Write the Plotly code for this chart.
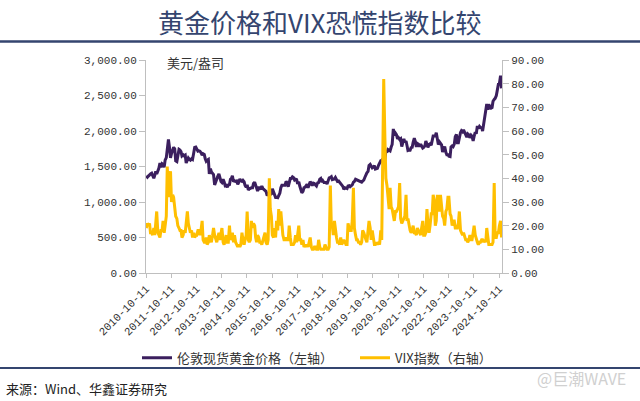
import pandas as pd
import plotly.graph_objects as go

# Semi-monthly readings (1st and 15th of each month), starting 2010-10-15
gold = [
    1370, 1350, 1365, 1390, 1395,
    1405, 1365, 1335, 1375, 1430, 1395, 1430, 1475, 1550, 1490, 1540, 1530, 1490, 1590, 1625, 1750, 1880, 1780, 1620, 1680, 1720, 1770, 1750, 1580,
    1570, 1640, 1740, 1730, 1710, 1650, 1665, 1650, 1660, 1550, 1600, 1620, 1600, 1590, 1610, 1600, 1690, 1770, 1775, 1750, 1715, 1720, 1715, 1695,
    1660, 1680, 1670, 1610, 1575, 1590, 1600, 1395, 1470, 1425, 1395, 1385, 1240, 1285, 1310, 1360, 1395, 1320, 1290, 1275, 1320, 1285, 1230, 1235,
    1210, 1240, 1245, 1320, 1330, 1370, 1285, 1300, 1290, 1295, 1250, 1275, 1325, 1300, 1290, 1305, 1285, 1235, 1210, 1240, 1170, 1185, 1200, 1200,
    1200, 1260, 1280, 1225, 1210, 1155, 1200, 1200, 1180, 1225, 1190, 1180, 1170, 1150, 1090, 1115, 1135, 1105, 1115, 1185, 1140, 1085, 1065, 1065,
    1060, 1090, 1125, 1200, 1235, 1235, 1230, 1235, 1290, 1275, 1215, 1290, 1330, 1330, 1355, 1345, 1310, 1320, 1315, 1255, 1285, 1225, 1170, 1130,
    1150, 1200, 1210, 1235, 1250, 1200, 1245, 1285, 1265, 1230, 1265, 1260, 1240, 1225, 1270, 1275, 1320, 1330, 1280, 1300, 1275, 1280, 1275, 1255,
    1300, 1340, 1345, 1355, 1315, 1320, 1325, 1345, 1305, 1290, 1295, 1280, 1250, 1240, 1220, 1180, 1200, 1195, 1190, 1225, 1230, 1215, 1225, 1240,
    1280, 1290, 1320, 1315, 1310, 1300, 1290, 1285, 1280, 1295, 1310, 1345, 1400, 1410, 1430, 1515, 1530, 1500, 1480, 1490, 1510, 1465, 1465, 1475,
    1520, 1550, 1580, 1580, 1610, 1515, 1590, 1720, 1700, 1740, 1735, 1720, 1775, 1810, 2030, 1940, 1970, 1950, 1890, 1905, 1880, 1890, 1780, 1850,
    1890, 1840, 1860, 1795, 1725, 1730, 1730, 1765, 1770, 1840, 1900, 1855, 1775, 1825, 1815, 1780, 1815, 1790, 1760, 1770, 1790, 1860, 1785, 1770,
    1810, 1820, 1800, 1855, 1930, 1930, 1930, 1975, 1860, 1810, 1845, 1830, 1805, 1705, 1765, 1780, 1700, 1665, 1665, 1645, 1640, 1775, 1790, 1780,
    1815, 1920, 1950, 1835, 1835, 1920, 1980, 2005, 1990, 2015, 1975, 1955, 1915, 1960, 1945, 1905, 1940, 1925, 1860, 1925, 1985, 1960, 2070, 2035,
    2065, 2050, 2045, 2000, 2085, 2160, 2265, 2380, 2300, 2375, 2330, 2320, 2330, 2420, 2445, 2460, 2500, 2580, 2660, 2665, 2780, 2600,
]

vix = [
    19, 21, 20, 21, 17,
    17, 16, 19, 16, 20, 26, 17, 16, 15, 18, 18, 22, 17, 20, 24, 45, 32, 38, 43, 30, 33, 32, 28, 24,
    23, 20, 19, 18, 18, 15, 16, 18, 17, 21, 26, 21, 18, 17, 18, 15, 17, 15, 16, 16, 18, 18, 16, 18,
    22, 14, 13, 13, 15, 12, 13, 16, 14, 13, 16, 19, 16, 14, 13, 15, 17, 14, 17, 19, 13, 12, 14, 16,
    13, 13, 20, 14, 15, 17, 13, 16, 13, 12, 11, 12, 11, 12, 17, 14, 12, 14, 16, 26, 14, 13, 14, 22,
    19, 21, 20, 15, 13, 16, 15, 13, 13, 12, 14, 15, 17, 13, 12, 14, 40, 27, 24, 16, 15, 19, 15, 22,
    18, 27, 20, 26, 18, 16, 14, 14, 15, 14, 14, 20, 15, 12, 12, 12, 13, 16, 13, 16, 20, 14, 14, 12,
    14, 11, 12, 11, 12, 11, 13, 15, 11, 10, 10, 11, 11, 10, 10, 14, 11, 10, 10, 10, 10, 12, 11, 10,
    10, 11, 37, 20, 20, 16, 22, 17, 15, 13, 13, 12, 15, 12, 13, 14, 13, 12, 12, 21, 19, 18, 18, 22,
    36, 19, 16, 14, 14, 13, 13, 12, 13, 18, 17, 15, 14, 13, 17, 22, 19, 14, 18, 14, 12, 12, 13, 12,
    13, 12, 18, 14, 40, 82, 57, 40, 37, 32, 27, 36, 28, 27, 24, 22, 26, 26, 27, 28, 38, 23, 21, 22,
    23, 24, 33, 22, 23, 20, 18, 17, 18, 20, 17, 17, 16, 19, 18, 17, 16, 19, 22, 16, 16, 17, 27, 21,
    17, 20, 25, 25, 33, 31, 20, 22, 33, 28, 26, 33, 27, 24, 23, 20, 26, 27, 32, 32, 25, 24, 20, 22,
    22, 19, 19, 19, 21, 26, 18, 17, 16, 17, 15, 14, 14, 13, 14, 16, 14, 14, 17, 20, 16, 14, 13, 12,
    13, 13, 14, 14, 13, 14, 13, 19, 15, 12, 12, 12, 12, 13, 38, 15, 15, 17, 17, 20, 22, 15,
]

tick_labels = [f"{y}-10-11" for y in range(2010, 2025)]

gold_dates = pd.date_range("2010-10-15", periods=len(gold), freq="SMS")
vix_dates = pd.date_range("2010-10-15", periods=len(vix), freq="SMS")

PURPLE = "#3B1F5E"
YELLOW = "#FFBF00"
NAVY = "#34456F"
AXIS_FONT = dict(family="Liberation Mono, DejaVu Sans Mono, monospace", size=11, color="#333333")
CJK = "Noto Sans CJK SC"

fig = go.Figure()
fig.add_trace(go.Scatter(x=gold_dates, y=gold, mode="lines", name="伦敦现货黄金价格（左轴）",
                         line=dict(color=PURPLE, width=3), yaxis="y"))
fig.add_trace(go.Scatter(x=vix_dates, y=vix, mode="lines", name="VIX指数（右轴）",
                         line=dict(color=YELLOW, width=3), yaxis="y2"))

L, R, T, B = 146, 138, 60, 128
W, H = 640, 401
pw, ph = W - L - R, H - T - B

def px(x):
    return (x - L) / pw

def py(y):
    return (H - B - y) / ph

fig.update_layout(
    width=W, height=H,
    margin=dict(l=L, r=R, t=T, b=B),
    paper_bgcolor="white", plot_bgcolor="white",
    xaxis=dict(type="date", range=["2010-10-11", "2024-11-22"], tickvals=tick_labels, ticktext=tick_labels,
               tickangle=-45, ticks="outside", ticklen=4, tickcolor="#BFBFBF", showline=True,
               linecolor="#BFBFBF", linewidth=1, showgrid=False, zeroline=False, tickfont=AXIS_FONT),
    yaxis=dict(range=[0, 3000], dtick=500, tickformat=",.2f", ticks="outside", ticklen=6, tickcolor="#BFBFBF",
               showline=True, linecolor="#BFBFBF", showgrid=False, zeroline=False, tickfont=AXIS_FONT),
    yaxis2=dict(range=[0, 90], dtick=10, tickformat=".2f", overlaying="y", side="right", ticks="outside",
                ticklen=6, tickcolor="#BFBFBF", showline=True, linecolor="#BFBFBF", showgrid=False,
                zeroline=False, tickfont=AXIS_FONT),
    legend=dict(orientation="h", x=px(137), xanchor="left", y=py(357.7), yanchor="middle",
                entrywidth=173, entrywidthmode="pixels",
                font=dict(family=CJK, size=13, color="#333333"), bgcolor="rgba(0,0,0,0)"),
    showlegend=True,
)

# Title
fig.add_annotation(text="黄金价格和VIX恐慌指数比较", xref="paper", yref="paper", x=px(319), y=py(21),
                   xanchor="center", yanchor="middle", showarrow=False,
                   font=dict(family=CJK, size=26, color=NAVY))

fig.add_shape(type="line", xref="paper", yref="paper", x0=px(0), x1=px(640), y0=py(41.5), y1=py(41.5),
              line=dict(color=NAVY, width=2.5))
fig.add_shape(type="line", xref="paper", yref="paper", x0=px(0), x1=px(640), y0=py(368), y1=py(368),
              line=dict(color=NAVY, width=2))

fig.add_annotation(text="美元/盎司", xref="paper", yref="paper", x=px(165), y=py(63), xanchor="left",
                   yanchor="middle", showarrow=False, font=dict(family=CJK, size=13, color="#333333"))
fig.add_annotation(text="来源：Wind、华鑫证券研究", xref="paper", yref="paper", x=px(4), y=py(388),
                   xanchor="left", yanchor="middle", showarrow=False,
                   font=dict(family=CJK, size=13, color="#222222"))
fig.add_annotation(text="@巨潮WAVE", xref="paper", yref="paper", x=px(628), y=py(378), xanchor="right",
                   yanchor="middle", showarrow=False, font=dict(family=CJK, size=16, color="#D0D0D0"))

fig.write_html("out.html", config={"displayModeBar": False},
               post_script="document.body.style.margin='0';document.body.style.overflow='hidden';")
